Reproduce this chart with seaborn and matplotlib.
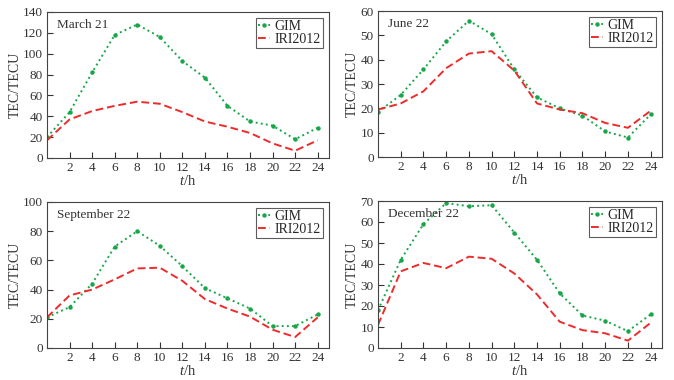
import matplotlib
matplotlib.use("Agg")
import matplotlib.pyplot as plt
import seaborn as sns
import pandas as pd

sns.set_theme(style="ticks")
plt.rcParams['font.family'] = ['Liberation Serif', 'DejaVu Serif']
plt.rcParams['mathtext.fontset'] = 'custom'
plt.rcParams['mathtext.it'] = 'Liberation Serif:italic'
plt.rcParams['mathtext.rm'] = 'Liberation Serif'

hours = [0, 2, 4, 6, 8, 10, 12, 14, 16, 18, 20, 22, 24]

march_gim = [20, 44, 82, 118, 128, 116, 93, 77, 50, 35, 31, 18, 29]
march_iri = [17, 37, 45, 50, 54, 52, 44, 35, 30, 24, 14, 7, 17]
june_gim = [18.5, 25.5, 36, 47.5, 56, 50.5, 36, 24.5, 20, 17, 10.5, 8, 17.5]
june_iri = [19.5, 22, 27, 36.5, 42.5, 43.5, 35.5, 22, 19.5, 18, 14, 12, 19]
sept_gim = [21, 28, 44, 69.5, 80, 70, 56, 41, 34, 27, 15, 15, 23]
sept_iri = [21, 36, 40, 47, 54.5, 55, 46, 33.5, 27, 21.5, 12.5, 7.5, 21]
dec_gim = [18, 42, 59, 69, 67.5, 68, 55, 42, 26, 15.5, 13, 8, 16]
dec_iri = [11, 36.5, 40.5, 38, 43.5, 42.5, 35.5, 25.5, 12.5, 8.5, 7, 3.5, 12]

panels = [
    ("March 21", march_gim, march_iri, 140, 20),
    ("June 22", june_gim, june_iri, 60, 10),
    ("September 22", sept_gim, sept_iri, 100, 20),
    ("December 22", dec_gim, dec_iri, 70, 10),
]

GREEN = '#19a64a'
RED = '#ee2b2b'
TXT = '#333333'

fig = plt.figure(figsize=(6.74, 3.8), dpi=100)
# axes positions in pixels: left, top, right, bottom
boxes = [(47, 12, 329, 158), (378, 11, 662, 157),
         (47, 202, 329, 348), (378, 201, 662, 348)]

for (title, gim, iri, ymax, ystep), (l, t, r, b) in zip(panels, boxes):
    ax = fig.add_axes([l / 674, 1 - b / 380, (r - l) / 674, (b - t) / 380])
    df = pd.DataFrame({'hour': hours, 'GIM': gim, 'IRI2012': iri})
    sns.lineplot(data=df, x='hour', y='GIM', ax=ax, color=GREEN, linestyle=':',
                 linewidth=1.4, marker='o', markersize=3.2, markeredgewidth=0,
                 label='GIM')
    sns.lineplot(data=df, x='hour', y='IRI2012', ax=ax, color=RED,
                 linestyle=(0, (4, 2)), linewidth=1.4, label='IRI2012')
    ax.set_xlim(0, 25)
    ax.set_ylim(0, ymax)
    ax.set_xticks(hours[1:])
    ax.set_yticks(range(0, ymax + 1, ystep))
    ax.tick_params(direction='in', length=4, width=0.8, labelsize=9.5,
                   colors=TXT, pad=3)
    for s in ax.spines.values():
        s.set_linewidth(0.8)
        s.set_color('#444444')
    ax.set_xlabel('$t$/h', fontsize=10.5, labelpad=0, color=TXT)
    ax.set_ylabel('TEC/TECU', fontsize=10, labelpad=1, color=TXT)
    ax.text(0.035, 0.91, title, transform=ax.transAxes, fontsize=9.5,
            va='center', ha='left', color=TXT)
    leg = ax.legend(loc='upper right', fontsize=10, frameon=True,
                    fancybox=False, handlelength=0.9, handletextpad=0.3,
                    borderpad=0.15, labelspacing=0.0, borderaxespad=0.45)
    leg.get_frame().set_edgecolor(TXT)
    leg.get_frame().set_linewidth(0.8)

fig.savefig('out.png', dpi=100)
